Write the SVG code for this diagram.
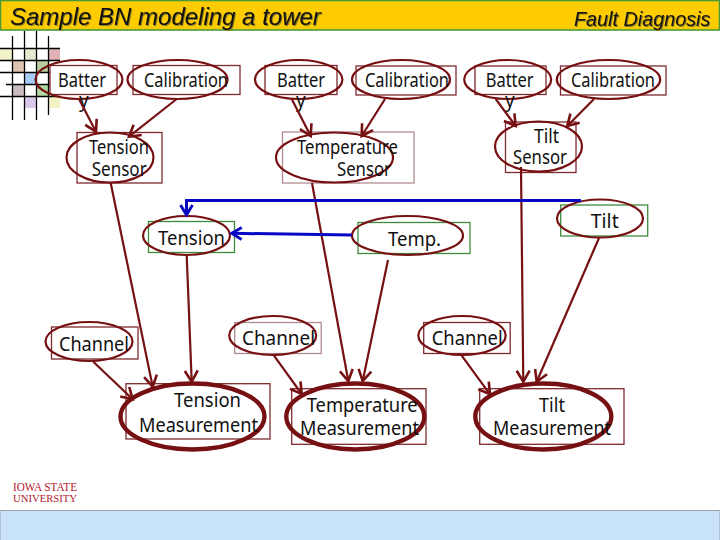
<svg xmlns="http://www.w3.org/2000/svg" width="720" height="540" viewBox="0 0 720 540">
<style>
.lbl{font-family:"Noto Sans","DejaVu Sans",sans-serif;font-size:19px;fill:#111}
.e{fill:none;stroke:#761012;stroke-width:2.2}
.E{fill:none;stroke:#761012;stroke-width:4.4}
.r{fill:#fff;stroke:#7f2a2e;stroke-width:1.3}
.p{fill:#fff;stroke:#b08a90;stroke-width:1.3}
.g{fill:#fff;stroke:#3f8a3f;stroke-width:1.3}
.c{fill:none;stroke:#761012;stroke-width:2.2;marker-end:url(#ar)}
.b{fill:none;stroke:#0808c4;stroke-width:3;marker-end:url(#ab)}
.t{font-family:"Liberation Sans",Arial,sans-serif;font-style:italic;fill:#111;filter:drop-shadow(1px 1px 0 #8a7a20)}
.gl{stroke:#000;stroke-width:1.3}
</style>
<defs>
<marker id="ar" markerUnits="userSpaceOnUse" markerWidth="18" markerHeight="18" refX="14" refY="8" orient="auto"><path d="M3 1.5L14 8L3 14.5" fill="none" stroke="#761012" stroke-width="2.6"/></marker>
<marker id="ab" markerUnits="userSpaceOnUse" markerWidth="18" markerHeight="18" refX="14" refY="8" orient="auto"><path d="M4 2L14 8L4 14" fill="none" stroke="#0808c4" stroke-width="2.8"/></marker>
</defs>
<rect width="720" height="540" fill="#fff"/>
<g id="header">
<rect x="0.5" y="0.5" width="719" height="29.5" fill="#ffcc00" stroke="#4a9a3a" stroke-width="1.6"/>
<text class="t" x="10" y="25" font-size="24px">Sample BN modeling a tower</text>
<text class="t" x="574" y="25.5" font-size="19.8px">Fault Diagnosis</text>
</g>
<g id="grid-decoration">
<rect x="0" y="49" width="12" height="11" fill="#f2f2c8"/>
<rect x="25" y="49" width="11" height="11" fill="#e6e8d2"/>
<rect x="49" y="49" width="11" height="12" fill="#dfb0b4"/>
<rect x="13" y="61" width="11" height="11" fill="#dcc4b0"/>
<rect x="37" y="61" width="11" height="11" fill="#b9cda0"/>
<rect x="25" y="73" width="11" height="11" fill="#a8ccf8"/>
<rect x="49" y="73" width="11" height="11" fill="#d8c0a8"/>
<rect x="13" y="85" width="11" height="11" fill="#cbbcc0"/>
<rect x="37" y="85" width="11" height="11" fill="#b4d8a4"/>
<rect x="25" y="97" width="11" height="11" fill="#dcc8ec"/>
<rect x="49" y="97" width="11" height="11" fill="#f4f2c4"/>
<path class="gl" d="M12.5 36V120M24.5 31V120M36.5 31V120M48.5 36V115M0 48.5H60M0 60.5H60M0 72.5H67M6 84.5H67M0 96.5H60"/>
</g>
<g id="logo" font-family="Liberation Serif,serif" fill="#b3162f">
<text x="13" y="490.5" font-size="12px" textLength="64" lengthAdjust="spacingAndGlyphs">IOWA STATE</text>
<text x="13" y="501.5" font-size="11px" textLength="64" lengthAdjust="spacingAndGlyphs">UNIVERSITY</text>
</g>
<rect id="footer" x="0" y="510.5" width="720" height="30" fill="#c9e3fb" stroke="#9aa5ad" stroke-width="1"/>

<g id="battery1"><rect class="r" x="50" y="65.5" width="67" height="29"/><ellipse class="e" cx="79" cy="79.5" rx="43.5" ry="19.5"/><text class="lbl" x="58" y="87" textLength="48" lengthAdjust="spacingAndGlyphs">Batter</text><text class="lbl" x="79" y="107">y</text></g>
<g id="calibration1"><rect class="r" x="133" y="65.5" width="107" height="29"/><ellipse class="e" cx="177.5" cy="79.5" rx="50" ry="19.5"/><text class="lbl" x="144" y="87" textLength="84" lengthAdjust="spacingAndGlyphs">Calibration</text></g>
<g id="battery2"><rect class="r" x="265" y="65.5" width="72" height="29"/><ellipse class="e" cx="298.7" cy="79.5" rx="43.7" ry="19.5"/><text class="lbl" x="277" y="87" textLength="48" lengthAdjust="spacingAndGlyphs">Batter</text><text class="lbl" x="296" y="107">y</text></g>
<g id="calibration2"><rect class="r" x="356" y="66" width="100" height="29"/><ellipse class="e" cx="401" cy="79.5" rx="49" ry="19.5"/><text class="lbl" x="365" y="87" textLength="84" lengthAdjust="spacingAndGlyphs">Calibration</text></g>
<g id="battery3"><rect class="r" x="475" y="66" width="71" height="28.5"/><ellipse class="e" cx="507.7" cy="79.5" rx="43.5" ry="19.5"/><text class="lbl" x="485.7" y="87" textLength="48" lengthAdjust="spacingAndGlyphs">Batter</text><text class="lbl" x="505" y="107">y</text></g>
<g id="calibration3"><rect class="r" x="560.5" y="66" width="105.5" height="29"/><ellipse class="e" cx="608.5" cy="79.5" rx="51.7" ry="19.5"/><text class="lbl" x="571" y="87" textLength="84" lengthAdjust="spacingAndGlyphs">Calibration</text></g>

<g id="tension-sensor"><rect class="r" x="77" y="132.5" width="85" height="50.5"/><ellipse class="e" cx="110" cy="157.5" rx="43.5" ry="25"/><text class="lbl" x="89" y="154" textLength="60" lengthAdjust="spacingAndGlyphs">Tension</text><text class="lbl" x="91.7" y="175.7" textLength="55" lengthAdjust="spacingAndGlyphs">Sensor</text></g>
<g id="temperature-sensor"><rect class="p" x="282.5" y="132" width="131.5" height="51"/><ellipse class="e" cx="334.5" cy="157.5" rx="58.5" ry="25"/><text class="lbl" x="297" y="154" textLength="101" lengthAdjust="spacingAndGlyphs">Temperature</text><text class="lbl" x="337" y="175.7" textLength="54" lengthAdjust="spacingAndGlyphs">Sensor</text></g>
<g id="tilt-sensor"><rect class="r" x="505.5" y="122" width="70.5" height="50.5"/><ellipse class="e" cx="538.5" cy="146.5" rx="43.5" ry="25"/><text class="lbl" x="534" y="142.7" textLength="25" lengthAdjust="spacingAndGlyphs">Tilt</text><text class="lbl" x="513" y="164" textLength="54" lengthAdjust="spacingAndGlyphs">Sensor</text></g>

<g id="tilt"><rect class="g" x="560.7" y="205" width="87" height="31"/><ellipse class="e" cx="600" cy="218.5" rx="43" ry="19"/><text class="lbl" x="590.7" y="228" textLength="28" lengthAdjust="spacingAndGlyphs">Tilt</text></g>
<g id="temp"><rect class="g" x="358" y="222.5" width="112" height="31"/><ellipse class="e" cx="407.5" cy="235.5" rx="55.5" ry="19.5"/><text class="lbl" x="388" y="245.7" textLength="53" lengthAdjust="spacingAndGlyphs">Temp.</text></g>
<g id="tension"><rect class="g" x="148.5" y="221.5" width="86" height="31"/><ellipse class="e" cx="186.5" cy="235.5" rx="43.5" ry="19.5"/><text class="lbl" x="158" y="245" textLength="67" lengthAdjust="spacingAndGlyphs">Tension</text></g>

<g id="channel1"><rect class="r" x="51.5" y="327" width="86.5" height="32"/><ellipse class="e" cx="89" cy="341.5" rx="43.5" ry="19.5"/><text class="lbl" x="59" y="350.7" textLength="70" lengthAdjust="spacingAndGlyphs">Channel</text></g>
<g id="channel2"><rect class="p" x="234.7" y="322.5" width="86.5" height="31"/><ellipse class="e" cx="272.7" cy="335.5" rx="43.5" ry="19.5"/><text class="lbl" x="242" y="345" textLength="73" lengthAdjust="spacingAndGlyphs">Channel</text></g>
<g id="channel3"><rect class="r" x="423.7" y="322.5" width="86.5" height="31"/><ellipse class="e" cx="462" cy="335.5" rx="43.7" ry="19.5"/><text class="lbl" x="431.7" y="345" textLength="71" lengthAdjust="spacingAndGlyphs">Channel</text></g>

<g id="tension-measurement"><rect class="r" x="126" y="383.7" width="144" height="55.3"/><ellipse class="E" cx="192.5" cy="416.5" rx="72" ry="33"/><text class="lbl" x="174" y="407.3" textLength="67" lengthAdjust="spacingAndGlyphs">Tension</text><text class="lbl" x="139" y="431.7" textLength="119" lengthAdjust="spacingAndGlyphs">Measurement</text></g>
<g id="temperature-measurement"><rect class="r" x="291.7" y="388.7" width="134.3" height="55.6"/><ellipse class="E" cx="355.3" cy="416.5" rx="69" ry="33"/><text class="lbl" x="306.7" y="412" textLength="111" lengthAdjust="spacingAndGlyphs">Temperature</text><text class="lbl" x="300" y="435" textLength="119" lengthAdjust="spacingAndGlyphs">Measurement</text></g>
<g id="tilt-measurement"><rect class="r" x="479.7" y="388.7" width="144.3" height="55.6"/><ellipse class="E" cx="543.3" cy="416.5" rx="68" ry="33"/><text class="lbl" x="539" y="412" textLength="26" lengthAdjust="spacingAndGlyphs">Tilt</text><text class="lbl" x="493" y="435" textLength="118" lengthAdjust="spacingAndGlyphs">Measurement</text></g>

<g id="connectors">
<line class="c" x1="79" y1="99" x2="96" y2="131.7"/>
<line class="c" x1="176.7" y1="99" x2="129" y2="136.7"/>
<line class="c" x1="291.7" y1="99" x2="310.7" y2="136"/>
<line class="c" x1="385" y1="99" x2="361.7" y2="136"/>
<line class="c" x1="495.7" y1="99" x2="515.7" y2="126"/>
<line class="c" x1="594" y1="99" x2="567.3" y2="126"/>
<line class="c" x1="110.7" y1="183" x2="152.7" y2="386.7"/>
<line class="c" x1="312" y1="183" x2="348.3" y2="381"/>
<line class="c" x1="521" y1="167" x2="523.3" y2="381.7"/>
<line class="c" x1="599" y1="238" x2="536.7" y2="381.7"/>
<line class="c" x1="388" y1="260" x2="362.7" y2="381"/>
<line class="c" x1="186.7" y1="255" x2="191.7" y2="381.7"/>
<line class="c" x1="93.3" y1="361.7" x2="132.7" y2="399.3"/>
<line class="c" x1="274" y1="355.7" x2="301.7" y2="394"/>
<line class="c" x1="461.7" y1="355.7" x2="490" y2="394.3"/>
<path class="b" d="M581 200.5H186.5V215"/>
<line class="b" x1="351.7" y1="235" x2="231.7" y2="233.3"/>
</g>
</svg>
